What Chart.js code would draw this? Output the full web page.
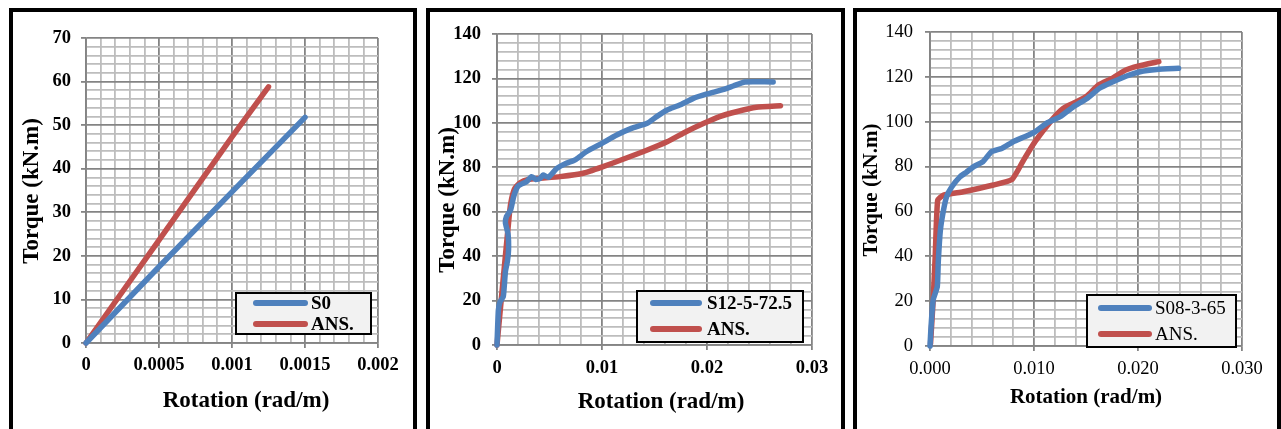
<!DOCTYPE html>
<html><head><meta charset="utf-8">
<script src="https://cdn.jsdelivr.net/npm/chart.js@4.4.1/dist/chart.umd.min.js"></script>
<style>
html,body{margin:0;padding:0;background:#fff;width:1281px;height:429px;overflow:hidden;position:relative;}
canvas{position:absolute;top:0;}
.frame{position:absolute;top:8px;height:450px;border:4px solid #000;box-sizing:border-box;pointer-events:none;}
</style></head><body>
<canvas id="c1" width="408" height="429" style="left:9px;width:408px;height:429px"></canvas>
<canvas id="c2" width="419" height="429" style="left:426px;width:419px;height:429px"></canvas>
<canvas id="c3" width="428" height="429" style="left:853px;width:428px;height:429px"></canvas>
<div class="frame" style="left:9px;width:408px"></div>
<div class="frame" style="left:426px;width:419px"></div>
<div class="frame" style="left:853px;width:428px"></div>
<script>
// ---------- Panel 1 data ----------
const p1Labels = ['S0', 'ANS.'];
const p1S0X  = [0, 0.0005, 0.001, 0.0015];
const p1S0Y  = [0, 17.5, 34.7, 51.8];
const p1AnsX = [0, 0.0005, 0.001, 0.00125];
const p1AnsY = [0, 23.6, 47.3, 58.8];
const p1XTicks = ['0', '0.0005', '0.001', '0.0015', '0.002'];
const p1YTicks = ['0', '10', '20', '30', '40', '50', '60', '70'];

// ---------- Panel 2 data ----------
const p2Labels = ['S12-5-72.5', 'ANS.'];
const p2SX = [0, 0.00013, 0.0003, 0.0006, 0.0008, 0.001, 0.0011, 0.00105, 0.0008, 0.0009, 0.0013, 0.0016, 0.002, 0.0028, 0.0033, 0.0037, 0.0041, 0.0044, 0.0049, 0.0057, 0.0066, 0.0075, 0.0085, 0.01, 0.0114, 0.0128, 0.0143, 0.0152, 0.0162, 0.0174, 0.0187, 0.02, 0.0216, 0.0225, 0.0236, 0.0247, 0.0263];
const p2SY = [0, 15.7, 19.5, 21.8, 33, 38, 43, 50, 55, 57.8, 60.8, 67, 71.5, 73.5, 75.8, 74.5, 75, 76.5, 75.5, 79.5, 81.8, 83.5, 87, 90.8, 94.5, 97.5, 99.8, 102.8, 105.8, 108, 111, 113, 115.1, 116.6, 118.4, 118.5, 118.4];
const p2AX = [0, 0.0012, 0.0014, 0.0017, 0.0022, 0.003, 0.004, 0.006, 0.0082, 0.0101, 0.012, 0.0139, 0.0162, 0.018, 0.0197, 0.0212, 0.0228, 0.0247, 0.027];
const p2AY = [0, 60, 66, 70.5, 73, 74.5, 75, 75.8, 77.3, 80.3, 83.6, 87, 91.5, 96, 99.8, 102.8, 105, 107, 107.7];
const p2XTicks = ['0', '0.01', '0.02', '0.03'];
const p2YTicks = ['0', '20', '40', '60', '80', '100', '120', '140'];

// ---------- Panel 3 data ----------
const p3Labels = ['S08-3-65', 'ANS.'];
const p3SX = [0, 0.0001, 0.0003, 0.0007, 0.0008, 0.001, 0.0013, 0.0016, 0.0021, 0.0029, 0.0035, 0.0042, 0.0051, 0.0059, 0.0069, 0.008, 0.0091, 0.0101, 0.0112, 0.0125, 0.0138, 0.0151, 0.0163, 0.0176, 0.0189, 0.0202, 0.0218, 0.0239];
const p3SY = [0, 8.6, 20.5, 26.5, 38, 51.7, 60.6, 66.6, 71, 75.5, 77.5, 80, 82.2, 86.6, 88.1, 91.1, 93.3, 95.5, 99.3, 102.2, 106.7, 110.4, 114.9, 117.8, 120.4, 122.3, 123.3, 123.8];
const p3AX = [0.00005, 0.0003, 0.0005, 0.00074, 0.0013, 0.0032, 0.0061, 0.0079, 0.009, 0.0101, 0.0117, 0.0128, 0.0141, 0.0151, 0.0162, 0.0175, 0.0188, 0.02, 0.022];
const p3AY = [1, 20, 40, 65, 67.3, 68.8, 71.8, 74.3, 82.9, 91.1, 100.7, 105.9, 108.9, 111.5, 116.4, 119.3, 123, 124.8, 126.8];
const p3XTicks = ['0.000', '0.010', '0.020', '0.030'];
const p3YTicks = ['0', '20', '40', '60', '80', '100', '120', '140'];

const xTitle = 'Rotation (rad/m)';
const yTitle = 'Torque (kN.m)';

// ---------- styling ----------
const BLUE = '#4F81BD', RED = '#C0504D';
const MAJOR = '#848484', MINOR = '#bdbdbd';
const FAM = '"Liberation Serif", "Times New Roman", serif';

function isMaj(v, m) { return Math.abs(v / m - Math.round(v / m)) < 1e-6; }

function overlay(cfg) {
  return {
    id: 'overlay_' + cfg.id,
    afterDraw(chart) {
      const ctx = chart.ctx, o = cfg.offset;
      ctx.save();
      ctx.fillStyle = '#000';
      ctx.textAlign = 'center'; ctx.textBaseline = 'middle';
      ctx.font = cfg.titleFont;
      ctx.fillText(xTitle, cfg.xT[0] - o, cfg.xT[1]);
      ctx.save();
      ctx.translate(cfg.yT[0] - o, cfg.yT[1]);
      ctx.rotate(-Math.PI / 2);
      ctx.fillText(yTitle, 0, 0);
      ctx.restore();
      // legend
      const L = cfg.legend;
      ctx.fillStyle = '#f2f2f2';
      ctx.fillRect(L.x0 - o, L.y0, L.x1 - L.x0, L.y1 - L.y0);
      ctx.strokeStyle = '#000'; ctx.lineWidth = 2;
      ctx.strokeRect(L.x0 - o, L.y0, L.x1 - L.x0, L.y1 - L.y0);
      ctx.font = cfg.legendFont;
      ctx.textAlign = 'left';
      chart.data.datasets.forEach((ds, i) => {
        const y = L.rows[i];
        ctx.strokeStyle = ds.borderColor; ctx.lineWidth = 6; ctx.lineCap = 'round';
        ctx.beginPath(); ctx.moveTo(L.s0 - o, y); ctx.lineTo(L.s1 - o, y); ctx.stroke();
        ctx.fillStyle = '#000';
        ctx.fillText(ds.label, L.tx - o, y + 1);
      });
      ctx.restore();
    }
  };
}

function makeChart(cfg) {
  const gridFor = (m) => ({
    color: c => (c.tick && isMaj(c.tick.value, m)) ? MAJOR : MINOR,
    lineWidth: 1.8,
    tickLength: 5,
    tickWidth: 1.8,
    tickColor: c => (c.tick && isMaj(c.tick.value, m)) ? MAJOR : 'rgba(0,0,0,0)'
  });
  new Chart(document.getElementById(cfg.id), {
    type: 'line',
    data: {
      datasets: cfg.series.map(s => ({
        label: s.label,
        data: s.x.map((x, i) => ({ x: x, y: s.y[i] })),
        borderColor: s.color, backgroundColor: s.color,
        borderWidth: 5.5, pointRadius: 0, pointHoverRadius: 0,
        tension: cfg.tension, borderCapStyle: 'round', borderJoinStyle: 'round',
        fill: false, clip: false
      }))
    },
    options: {
      responsive: false, animation: false, devicePixelRatio: 1,
      layout: { padding: cfg.pad },
      plugins: { legend: { display: false }, tooltip: { enabled: false } },
      scales: {
        x: {
          type: 'linear', min: 0, max: cfg.xMax,
          afterFit: s => { s.height = cfg.xAxisH; },
          ticks: {
            stepSize: cfg.xMinor, autoSkip: false, maxTicksLimit: 500, maxRotation: 0, minRotation: 0,
            padding: cfg.xPad, color: '#000', font: cfg.tickFont,
            callback: v => isMaj(v, cfg.xMajor) ? cfg.xTicks[Math.round(v / cfg.xMajor)] : ''
          },
          grid: gridFor(cfg.xMajor),
          border: { display: true, color: MAJOR, width: 1.8 }
        },
        y: {
          type: 'linear', min: 0, max: cfg.yMax,
          afterFit: s => { s.width = cfg.yAxisW; },
          ticks: {
            stepSize: cfg.yMinor, autoSkip: false, maxTicksLimit: 500,
            padding: cfg.yPad, color: '#000', font: cfg.tickFont,
            callback: v => isMaj(v, cfg.yMajor) ? cfg.yTicks[Math.round(v / cfg.yMajor)] : ''
          },
          grid: gridFor(cfg.yMajor),
          border: { display: true, color: MAJOR, width: 1.8 }
        }
      }
    },
    plugins: [overlay(cfg)]
  });
}

// Panel 1: chart area page x 86-378, y 38-343 ; canvas offset 9
makeChart({
  id: 'c1', offset: 9, tension: 0,
  series: [
    { label: p1Labels[0], x: p1S0X, y: p1S0Y, color: BLUE },
    { label: p1Labels[1], x: p1AnsX, y: p1AnsY, color: RED }
  ],
  xMax: 0.002, xMinor: 0.0001, xMajor: 0.0005, xTicks: p1XTicks,
  yMax: 70, yMinor: 2, yMajor: 10, yTicks: p1YTicks,
  pad: { left: 5, right: 39, top: 38, bottom: 6 }, yAxisW: 72, xAxisH: 80,
  xPad: 6, yPad: 10,
  tickFont: { family: FAM, size: 18.5, weight: 'bold' },
  titleFont: 'bold 23px ' + FAM,
  legendFont: 'bold 19px ' + FAM,
  xT: [246, 401], yT: [32, 191],
  legend: { x0: 236, x1: 371, y0: 293, y1: 334, s0: 256, s1: 305, tx: 311, rows: [303, 324] }
});

// Panel 2: chart area page x 497-812, y 34-345 ; canvas offset 426
makeChart({
  id: 'c2', offset: 426, tension: 0.15,
  series: [
    { label: p2Labels[0], x: p2SX, y: p2SY, color: BLUE },
    { label: p2Labels[1], x: p2AX, y: p2AY, color: RED }
  ],
  xMax: 0.03, xMinor: 0.002, xMajor: 0.01, xTicks: p2XTicks,
  yMax: 140, yMinor: 4, yMajor: 20, yTicks: p2YTicks,
  pad: { left: 5, right: 33, top: 34, bottom: 4 }, yAxisW: 66, xAxisH: 80,
  xPad: 7, yPad: 11,
  tickFont: { family: FAM, size: 18.5, weight: 'bold' },
  titleFont: 'bold 23px ' + FAM,
  legendFont: 'bold 19px ' + FAM,
  xT: [661, 402], yT: [448, 200],
  legend: { x0: 637, x1: 803, y0: 291, y1: 342, s0: 653, s1: 699, tx: 707, rows: [303, 329] }
});

// Panel 3: chart area page x 930-1242, y 32-346 ; canvas offset 853
makeChart({
  id: 'c3', offset: 853, tension: 0.15,
  series: [
    { label: p3Labels[0], x: p3SX, y: p3SY, color: BLUE },
    { label: p3Labels[1], x: p3AX, y: p3AY, color: RED }
  ],
  xMax: 0.03, xMinor: 0.002, xMajor: 0.01, xTicks: p3XTicks,
  yMax: 140, yMinor: 4, yMajor: 20, yTicks: p3YTicks,
  pad: { left: 5, right: 39, top: 32, bottom: 3 }, yAxisW: 72, xAxisH: 80,
  xPad: 7, yPad: 12,
  tickFont: { family: FAM, size: 18.5, weight: 'normal' },
  titleFont: 'bold 21px ' + FAM,
  legendFont: '19px ' + FAM,
  xT: [1086, 398], yT: [872, 190],
  legend: { x0: 1087, x1: 1236, y0: 295, y1: 347, s0: 1101, s1: 1149, tx: 1155, rows: [308, 334] }
});
</script>
</body></html>
